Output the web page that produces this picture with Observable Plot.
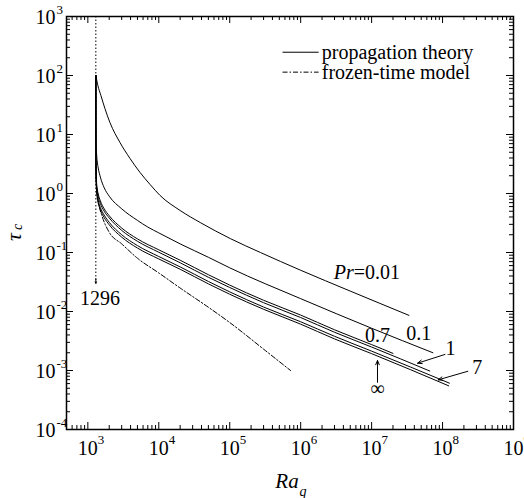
<!DOCTYPE html>
<html>
<head>
<meta charset="utf-8">
<script src="https://cdn.jsdelivr.net/npm/d3@7"></script>
<script src="https://cdn.jsdelivr.net/npm/@observablehq/plot@0.6"></script>
<style>
  html, body { margin: 0; padding: 0; background: #fff; }
</style>
</head>
<body>
<div id="chart"></div>
<script>
// ---- data ----
const raA   = [1296, 1384, 1528, 1740, 2046, 2838, 3930, 5445, 7540, 10430, 2e4, 3.84e4, 1.02e5, 2.71e5, 1e6, 5.08e6, 3.36e7];
const tauA  = [100, 67.8, 45.8, 27.6, 16, 7.31, 3.92, 2.27, 1.42, 0.925, 0.515, 0.322, 0.172, 0.1, 0.05, 0.022, 0.0086];   // Pr = 0.01

const raB   = [1296, 1297, 1300, 1310, 1330, 1360, 1400, 1500, 1700, 2000, 3000, 5000, 7000, 1e4, 2e4, 5e4, 1e5, 1e6, 1e7, 7.3e7];
const tauB  = [100, 40, 15, 7, 4.5, 3.4, 2.7, 1.9, 1.25, 0.9, 0.55, 0.35, 0.27, 0.215, 0.14, 0.083, 0.055, 0.0165, 0.0052, 0.002]; // Pr = 0.1

const raC   = [1296, 1297, 1299, 1305, 1320, 1350, 1400, 1500, 1700, 2000, 3000, 5000, 1e4, 2e4, 5e4, 1e5, 3e5, 1e6, 3e6, 1e7];
const tau07 = [100, 20, 6, 2.8, 1.7, 1.25, 0.98, 0.75, 0.55, 0.42, 0.26, 0.17, 0.111, 0.074, 0.042, 0.028, 0.0155, 0.0087, 0.0049, 0.00275];
const tau1  = [100, 18, 5.5, 2.6, 1.55, 1.14, 0.89, 0.68, 0.5, 0.385, 0.237, 0.155, 0.101, 0.067, 0.038, 0.0255, 0.0141, 0.0079, 0.00445, 0.0025];
const tau7  = [100, 16, 5, 2.3, 1.35, 0.98, 0.76, 0.58, 0.43, 0.325, 0.2, 0.131, 0.0855, 0.057, 0.0323, 0.0215, 0.0119, 0.0067, 0.0038, 0.00213];
const tauInf= [100, 14, 4.5, 2.1, 1.2, 0.88, 0.69, 0.53, 0.39, 0.295, 0.182, 0.119, 0.0777, 0.052, 0.0294, 0.0196, 0.0109, 0.0061, 0.00343, 0.00193];
const end07  = [2e7, 0.00195];
const end1   = [6.6e7, 0.00098];
const end7   = [1.25e8, 0.00061];
const endInf = [1.22e8, 0.00055];

const raF   = [1300, 1310, 1350, 1450, 1600, 2000, 3000, 5000, 1e4, 2e4, 5e4, 1e5, 3e5, 7.2e5];
const tauF  = [3, 1.8, 1.0, 0.6, 0.4, 0.22, 0.14, 0.08, 0.045, 0.025, 0.0118, 0.0065, 0.0023, 0.001]; // frozen-time model

const raCrit = 1296;
const xDecades = [3, 4, 5, 6, 7, 8, 9];
const yDecades = [-4, -3, -2, -1, 0, 1, 2, 3];

const prLabels = [
  {x: 4.6e7, y: 4.23e-3, t: "0.1"},
  {x: 1.21e7, y: 3.92e-3, t: "0.7"},
  {x: 1.29e8, y: 2.33e-3, t: "1"},
  {x: 3.08e8, y: 1.11e-3, t: "7"},
  {x: 1.21e7, y: 4.9e-4, t: "\u221E"}
];
const prArrows = [
  {x1: 1.08e8, y1: 1.87e-3, x2: 4.45e7, y2: 1.33e-3},
  {x1: 2.27e8, y1: 9.7e-4, x2: 8.7e7, y2: 6.95e-4},
  {x1: 1.21e7, y1: 6.3e-4, x2: 1.21e7, y2: 1.48e-3}
];
const legendRows = [
  {x1: 5.55e5, x2: 1.79e6, xt: 1.98e6, y: 248, t: "propagation theory"},
  {x1: 5.55e5, x2: 1.79e6, xt: 1.98e6, y: 114, t: "frozen-time model"}
];

// ---- build tables ----
const zip = (xs, ys) => xs.map((x, i) => ({ra: x, tau: ys[i]}));
const curves = [
  zip(raA, tauA),
  zip(raB, tauB),
  zip(raC.concat([end07[0]]), tau07.concat([end07[1]])),
  zip(raC.concat([end1[0]]), tau1.concat([end1[1]])),
  zip(raC.concat([end7[0]]), tau7.concat([end7[1]])),
  zip(raC.concat([endInf[0]]), tauInf.concat([endInf[1]]))
];
const frozen = zip(raF, tauF);

const xMajor = xDecades.map(d => 10 ** d);
const yMajor = yDecades.map(d => 10 ** d);
const xMinor = [];
for (let d = 2; d <= 8; d++) for (let m = 2; m <= 9; m++) { const v = m * 10 ** d; if (v > 500 - 1 && v < 1e9) xMinor.push(v); }
const yMinor = [];
for (let d = -4; d <= 2; d++) for (let m = 2; m <= 9; m++) yMinor.push(m * 10 ** d);

const mL = 66, mR = 11, mT = 16, mB = 69, W = 524, H = 498;
const pw = W - mL - mR, ph = H - mT - mB;
const font = "'Liberation Serif', 'Times New Roman', serif";

const chart = Plot.plot({
  width: W, height: H,
  marginLeft: mL, marginRight: mR, marginTop: mT, marginBottom: mB,
  style: {fontFamily: font, background: "white", color: "black", overflow: "visible"},
  x: {type: "log", domain: [500, 1e9], axis: null},
  y: {type: "log", domain: [1e-4, 1e3], axis: null},
  marks: [
    // ticks (inward, all four sides)
    Plot.ruleX(xMajor, {x: d => d, insetTop: ph - 7, stroke: "black"}),
    Plot.ruleX(xMajor, {x: d => d, insetBottom: ph - 7, stroke: "black"}),
    Plot.ruleX(xMinor, {x: d => d, insetTop: ph - 4, stroke: "black"}),
    Plot.ruleX(xMinor, {x: d => d, insetBottom: ph - 4, stroke: "black"}),
    Plot.ruleY(yMajor, {y: d => d, insetRight: pw - 7, stroke: "black"}),
    Plot.ruleY(yMajor, {y: d => d, insetLeft: pw - 7, stroke: "black"}),
    Plot.ruleY(yMinor, {y: d => d, insetRight: pw - 4, stroke: "black"}),
    Plot.ruleY(yMinor, {y: d => d, insetLeft: pw - 4, stroke: "black"}),
    Plot.frame({stroke: "black", strokeWidth: 1.5}),
    // tick labels
    Plot.text(xMajor, {x: d => d, text: () => "10", frameAnchor: "bottom", dy: 19, fontSize: 20, lineAnchor: "middle"}),
    Plot.text(xDecades, {x: d => 10 ** d, text: d => String(d), frameAnchor: "bottom", dx: 10, dy: 10, fontSize: 13, textAnchor: "start", lineAnchor: "middle"}),
    Plot.text(yMajor, {y: d => d, text: () => "10", frameAnchor: "left", dx: -11, dy: 1, fontSize: 20, textAnchor: "end", lineAnchor: "middle"}),
    Plot.text(yDecades, {y: d => 10 ** d, text: d => String(d), frameAnchor: "left", dx: -10, dy: -7, fontSize: 13, textAnchor: "start", lineAnchor: "middle"}),
    // axis titles
    Plot.text(["Ra"], {text: d => d, frameAnchor: "bottom", dx: -3, dy: 52, fontSize: 21, fontStyle: "italic", lineAnchor: "middle"}),
    Plot.text(["q"], {text: d => d, frameAnchor: "bottom", dx: 13, dy: 62, fontSize: 14, fontStyle: "italic", lineAnchor: "middle"}),
    Plot.text(["\u03C4"], {text: d => d, frameAnchor: "left", dx: -53, dy: 18, rotate: -90, fontSize: 22, fontStyle: "italic", lineAnchor: "middle"}),
    Plot.text(["c"], {text: d => d, frameAnchor: "left", dx: -49, dy: 7, rotate: -90, fontSize: 14, fontStyle: "italic", lineAnchor: "middle"}),
    // critical Ra marker
    Plot.ruleX([raCrit], {x: d => d, y1: 1e3, y2: 0.033, stroke: "black", strokeDasharray: "1.5,2"}),
    Plot.arrow([raCrit], {x1: d => d, x2: d => d, y1: 0.036, y2: 0.030, headLength: 6, headAngle: 50, stroke: "black", strokeWidth: 1}),
    Plot.text([raCrit], {x: d => d * 1.14, y: 0.0164, text: d => String(d), fontSize: 20, lineAnchor: "middle"}),
    // curves
    ...curves.map(c => Plot.line(c, {x: "ra", y: "tau", curve: "monotone-x", stroke: "black", strokeWidth: 1})),
    Plot.line(frozen, {x: "ra", y: "tau", curve: "monotone-x", stroke: "black", strokeWidth: 1, strokeDasharray: "5,2,1.5,2"}),
    // Pr labels
    Plot.text([{x: 5.6e6, y: 0.0458}], {x: "x", y: "y", text: () => "Pr", fontSize: 20, fontStyle: "italic", textAnchor: "end", lineAnchor: "middle"}),
    Plot.text([{x: 5.6e6, y: 0.0458}], {x: "x", y: "y", text: () => "=0.01", fontSize: 20, textAnchor: "start", lineAnchor: "middle"}),
    Plot.text(prLabels, {x: "x", y: "y", text: "t", fontSize: 20, lineAnchor: "middle"}),
    Plot.arrow(prArrows, {x1: "x1", y1: "y1", x2: "x2", y2: "y2", headLength: 7, headAngle: 45, stroke: "black", strokeWidth: 1}),
    // legend
    Plot.link([legendRows[0]], {x1: "x1", x2: "x2", y1: "y", y2: "y", stroke: "black", strokeWidth: 1}),
    Plot.link([legendRows[1]], {x1: "x1", x2: "x2", y1: "y", y2: "y", stroke: "black", strokeWidth: 1, strokeDasharray: "5,2,1.5,2"}),
    Plot.text(legendRows, {x: "xt", y: "y", text: "t", fontSize: 20, textAnchor: "start", lineAnchor: "middle"})
  ]
});
document.getElementById("chart").appendChild(chart);
</script>
</body>
</html>
